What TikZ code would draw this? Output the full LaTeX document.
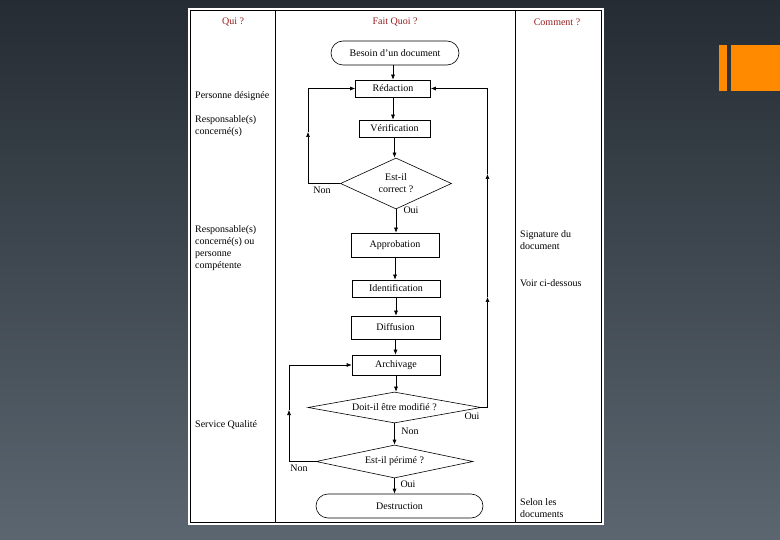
\documentclass[tikz,border=0pt]{standalone}
\usepackage{fontspec}
\setmainfont{Liberation Serif}
\usetikzlibrary{arrows.meta,shapes.geometric,shapes.misc}
\definecolor{bgtop}{HTML}{252C33}
\definecolor{bgbot}{HTML}{5B6670}
\definecolor{deco}{HTML}{FF8A00}
\definecolor{headred}{HTML}{962020}
\begin{document}
\begin{tikzpicture}[x=1pt,y=-1pt,
  lw/.style={line width=0.6pt},
  arr/.style={lw,-{Latex[length=5pt,width=4pt]}},
  txt/.style={font=\fontsize{10}{12}\selectfont,inner sep=0pt},
  boxn/.style={draw,lw,rectangle,inner sep=0pt,font=\fontsize{10}{12}\selectfont},
  stad/.style={draw,lw,rounded rectangle,inner sep=0pt,font=\fontsize{10}{12}\selectfont},
  dia/.style={draw,lw,diamond,inner sep=0pt,align=center,font=\fontsize{10}{12}\selectfont},
  head/.style={txt,text=headred}]
\useasboundingbox (0,0) rectangle (780,540);
\shade[top color=bgtop,bottom color=bgbot] (0pt,0pt) rectangle (780pt,-540pt);
% decoration
\fill[deco] (719,45) rectangle (727,91);
\fill[deco] (731,45) rectangle (780,91);
% page
\fill[white] (188,8) rectangle (604,525);
\draw[lw] (190,10) rectangle (601,522);
\draw[lw] (275,10) -- (275,522);
\draw[lw] (515,10) -- (515,522);
% headers
\node[head] (h1) at (233,22) {Qui ?};
\node[head] (h2) at (395,22) {Fait Quoi ?};
\node[head] (h3) at (557,22) {Comment ?};
% left column
\node[txt,anchor=west] (q1) at (195,96) {Personne désignée};
\node[txt,anchor=west,align=left] (q2) at (195,126) {Responsable(s)\\concerné(s)};
\node[txt,anchor=west,align=left] (q3) at (195,248.5) {Responsable(s)\\concerné(s) ou\\personne\\compétente};
\node[txt,anchor=west] (q4) at (195,425) {Service Qualité};
% right column
\node[txt,anchor=west,align=left] (c1t) at (520,240) {Signature du\\document};
\node[txt,anchor=west] (c2t) at (520,283) {Voir ci-dessous};
\node[txt,anchor=west,align=left] (c3t) at (520,508) {Selon les\\documents};
% flow nodes
\node[stad,minimum width=128,minimum height=24] (besoin) at (395,53) {Besoin d'un document};
\node[boxn,minimum width=75,minimum height=17] (redac) at (393,88.5) {Rédaction};
\node[boxn,minimum width=71,minimum height=17] (verif) at (394.5,128.5) {Vérification};
\node[dia,shape aspect=2.18,minimum width=111,minimum height=51] (est) at (396,183.5) {Est-il\\correct ?};
\node[boxn,minimum width=88,minimum height=24] (appro) at (395,245) {Approbation};
\node[boxn,minimum width=88,minimum height=17] (ident) at (396,288.5) {Identification};
\node[boxn,minimum width=89,minimum height=23] (diff) at (395.5,327.5) {Diffusion};
\node[boxn,minimum width=88,minimum height=20] (arch) at (396,365) {Archivage};
\node[dia,shape aspect=5.58,minimum width=173,minimum height=31] (modif) at (394.5,407.5) {Doit-il être modifié ?};
\node[dia,shape aspect=4.76,minimum width=157,minimum height=33] (perime) at (394.5,461.5) {Est-il périmé ?};
\node[stad,minimum width=167,minimum height=24] (destr) at (399.5,506) {Destruction};
% labels
\node[txt] (l1) at (322,190) {Non};
\node[txt] (l2) at (411,210) {Oui};
\node[txt] (l3) at (472,416) {Oui};
\node[txt] (l4) at (410,431) {Non};
\node[txt] (l5) at (299,468) {Non};
\node[txt] (l6) at (408,484) {Oui};
% coordinates
\coordinate (a1) at (308,183.5);
\coordinate (a2) at (308,132);
\coordinate (a3) at (308,88.5);
\coordinate (b1) at (487.5,407.5);
\coordinate (b2) at (487.5,297);
\coordinate (b3) at (487.5,174);
\coordinate (b4) at (487.5,88.5);
\coordinate (d1) at (289,461.5);
\coordinate (d2) at (289,410);
\coordinate (d3) at (289,365);
% connectors
\draw[arr] (besoin.south -| redac.north) -- (redac.north);
\draw[arr] (redac.south) -- (redac.south |- verif.north);
\draw[arr] (verif.south) -- (verif.south |- est.north);
\draw[arr] (est.west) -- (a1) -- (a2);
\draw[arr] (a2) -- (a3) -- (redac.west);
\draw[arr] (est.south) -- (est.south |- appro.north);
\draw[arr] (appro.south) -- (appro.south |- ident.north);
\draw[arr] (ident.south) -- (ident.south |- diff.north);
\draw[arr] (diff.south) -- (diff.south |- arch.north);
\draw[arr] (arch.south) -- (arch.south |- modif.north);
\draw[arr] (modif.east) -- (b1) -- (b2);
\draw[arr] (b2) -- (b3);
\draw[arr] (b3) -- (b4) -- (redac.east);
\draw[arr] (modif.south) -- (modif.south |- perime.north);
\draw[arr] (perime.west) -- (d1) -- (d2);
\draw[arr] (d2) -- (d3) -- (arch.west);
\draw[arr] (perime.south) -- (perime.south |- destr.north);
\end{tikzpicture}
\end{document}
